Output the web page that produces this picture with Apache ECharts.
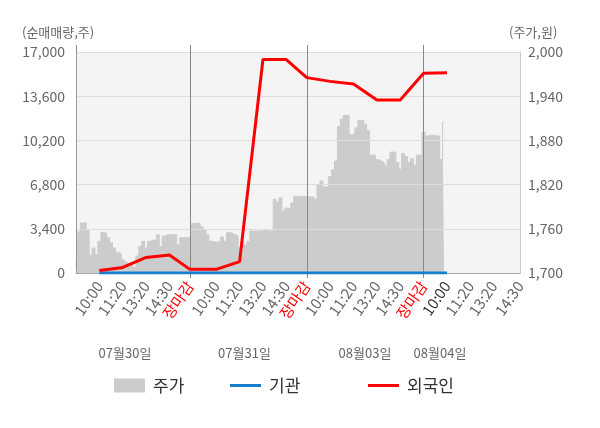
<!DOCTYPE html>
<html>
<head>
<meta charset="utf-8">
<script src="https://cdn.jsdelivr.net/npm/echarts@6/dist/echarts.min.js"></script>
<style>
  html, body { margin: 0; padding: 0; background: #fff; }
  #chart { width: 600px; height: 428px; }
</style>
</head>
<body>
<div id="chart"></div>
<script>
// x축 시간 라벨 (4일치, 마지막 날은 장마감 없음)
const timeLabels = [
  '10:00', '11:20', '13:20', '14:30', '장마감',
  '10:00', '11:20', '13:20', '14:30', '장마감',
  '10:00', '11:20', '13:20', '14:30', '장마감',
  '10:00', '11:20', '13:20', '14:30',
]
// 라벨이 찍히는 카테고리 위치
const labelIndex = [8, 16, 24, 32, 39, 48, 56, 64, 72, 79, 87, 95, 103, 111, 119, 127, 135, 143, 152]
const dayEndIndex = [39, 79, 119]
const dayNames = ['07월30일', '07월31일', '08월03일', '08월04일']
const pointCount = 153

// 주가 (원)
const price = [
  1707, 1756, 1768, 1768, 1759, 1724, 1734, 1725, 1743, 1755,
  1754, 1748, 1741, 1734, 1728, 1726, 1718, 1715, 1711, 1711,
  1707, 1723, 1736, 1743, 1734, 1743, 1745, 1744, 1752, 1736,
  1750, 1752, 1752, 1752, 1752, 1738, 1748, 1748, 1748, 1748,
  1767, 1768, 1767, 1763, 1759, 1752, 1743, 1742, 1742, 1743,
  1749, 1743, 1755, 1754, 1752, 1750, 1734, 1743, 1738, 1743,
  1757, 1757, 1757, 1757, 1758, 1758, 1757, 1757, 1800, 1796,
  1802, 1784, 1788, 1786, 1795, 1804, 1804, 1804, 1804, 1804,
  1803, 1803, 1800, 1820, 1825, 1817, 1817, 1831, 1840, 1852,
  1899, 1909, 1914, 1914, 1888, 1889, 1897, 1907, 1907, 1902,
  1893, 1860, 1860, 1854, 1852, 1850, 1846, 1854, 1864, 1864,
  1850, 1841, 1862, 1858, 1850, 1855, 1846, 1860, 1860, 1891,
  1886, 1887, 1887, 1886, 1886, 1854, 1905,
]

// 순매매량 (주) - 라벨 위치마다 한 점
const foreign = [200, 430, 1200, 1390, 280, 280, 870, 16420, 16420, 15030, 14740, 14530, 13300, 13300, 15360, 15410]
const institution = [0, 0, 0, 0, 0, 0, 0, 0, 0, 0, 0, 0, 0, 0, 0, 0]

const font = 'Noto Sans CJK KR'

const categories = Array.from({length: pointCount}, () => '')
labelIndex.forEach((idx, i) => { categories[idx] = timeLabels[i] })

const pairs = arr => arr.map((v, i) => [labelIndex[i], v])
const comma = v => Number(v).toLocaleString('en-US')

const legendText = {fontSize: 17, color: '#333', fontFamily: font, padding: [0, 0, 0, 3]}

const chart = echarts.init(document.getElementById('chart'))

const option = {
  animation: false,
  textStyle: {fontFamily: font},
  grid: {
    left: 76,
    right: 80,
    top: 52,
    bottom: 155,
    show: true,
    backgroundColor: '#f4f4f4',
    borderWidth: 0,
  },
  legend: [
    {
      left: 114,
      top: 377,
      itemWidth: 31,
      itemHeight: 14,
      padding: 0,
      textStyle: legendText,
      data: [{name: '주가', icon: 'rect', itemStyle: {color: '#cccccc'}}],
    },
    {
      left: 230,
      top: 377,
      itemWidth: 31,
      itemHeight: 3,
      padding: 0,
      textStyle: legendText,
      data: [{name: '기관', icon: 'rect', itemStyle: {color: '#157fcc'}}],
    },
    {
      left: 368,
      top: 377,
      itemWidth: 31,
      itemHeight: 3,
      padding: 0,
      textStyle: legendText,
      data: [{name: '외국인', icon: 'rect', itemStyle: {color: '#ff0000'}}],
    },
  ],
  xAxis: [
    {
      type: 'category',
      data: categories,
      boundaryGap: false,
      z: 3,
      axisLine: {show: true, lineStyle: {color: '#aaa'}},
      axisTick: {
        show: true,
        length: 5,
        interval: idx => dayEndIndex.includes(idx),
        lineStyle: {color: '#888'},
      },
      splitLine: {
        show: true,
        interval: idx => dayEndIndex.includes(idx),
        lineStyle: {color: '#888', width: 1},
      },
      axisLabel: {
        interval: idx => labelIndex.includes(idx),
        rotate: 55,
        margin: 10,
        fontSize: 15,
        color: '#666',
        fontFamily: font,
        formatter: (v, i) => {
          if (v === '장마감') return `{r|${v}}`
          if (i === labelIndex[15]) return `{k|${v}}`
          return v
        },
        rich: {
          r: {color: '#ff0000', fontSize: 15, fontFamily: font},
          k: {color: '#333', fontSize: 15, fontFamily: font},
        },
      },
    },
    {
      // 위쪽으로 살짝 튀어나온 날짜 구분선
      type: 'category',
      data: categories,
      boundaryGap: false,
      position: 'top',
      z: 3,
      axisLine: {show: false},
      axisLabel: {show: false},
      splitLine: {show: false},
      axisTick: {
        show: true,
        inside: false,
        length: 7,
        interval: idx => idx === 0 || dayEndIndex.includes(idx),
        lineStyle: {color: '#888'},
      },
    },
  ],
  yAxis: [
    {
      type: 'value',
      min: 0,
      max: 17000,
      interval: 3400,
      z: 3,
      axisLine: {show: true, lineStyle: {color: '#999'}},
      axisTick: {show: false},
      splitLine: {show: true, lineStyle: {color: '#dddddd'}},
      axisLabel: {fontSize: 14, color: '#666', margin: 11, fontFamily: font, formatter: comma},
    },
    {
      type: 'value',
      min: 1700,
      max: 2000,
      interval: 60,
      z: 3,
      axisLine: {show: true, lineStyle: {color: '#ccc'}},
      axisTick: {show: false},
      splitLine: {show: false},
      axisLabel: {fontSize: 14, color: '#666', margin: 8, fontFamily: font, formatter: comma},
    },
  ],
  graphic: [
    {type: 'text', left: 22, top: 26, style: {text: '(순매매량,주)', fill: '#666', font: `13px "${font}"`}},
    {type: 'text', left: 509, top: 26, style: {text: '(주가,원)', fill: '#666', font: `13px "${font}"`}},
    ...dayNames.map((d, i) => ({
      type: 'text',
      x: [125, 244.5, 365, 440][i],
      y: 353,
      style: {text: d, fill: '#666', font: `13px "${font}"`, align: 'center', verticalAlign: 'middle'},
    })),
  ],
  series: [
    {
      name: '주가',
      type: 'line',
      yAxisIndex: 1,
      data: price,
      step: 'middle',
      symbol: 'none',
      z: 2,
      lineStyle: {color: '#cccccc', width: 1},
      itemStyle: {color: '#cccccc'},
      areaStyle: {color: '#cccccc', opacity: 1},
    },
    {
      name: '기관',
      type: 'line',
      yAxisIndex: 0,
      data: pairs(institution),
      symbol: 'none',
      z: 4,
      lineStyle: {color: '#157fcc', width: 3},
      itemStyle: {color: '#157fcc'},
    },
    {
      name: '외국인',
      type: 'line',
      yAxisIndex: 0,
      data: pairs(foreign),
      symbol: 'none',
      z: 5,
      lineStyle: {color: '#ff0000', width: 3},
      itemStyle: {color: '#ff0000'},
    },
  ],
}

chart.setOption(option)
</script>
</body>
</html>
